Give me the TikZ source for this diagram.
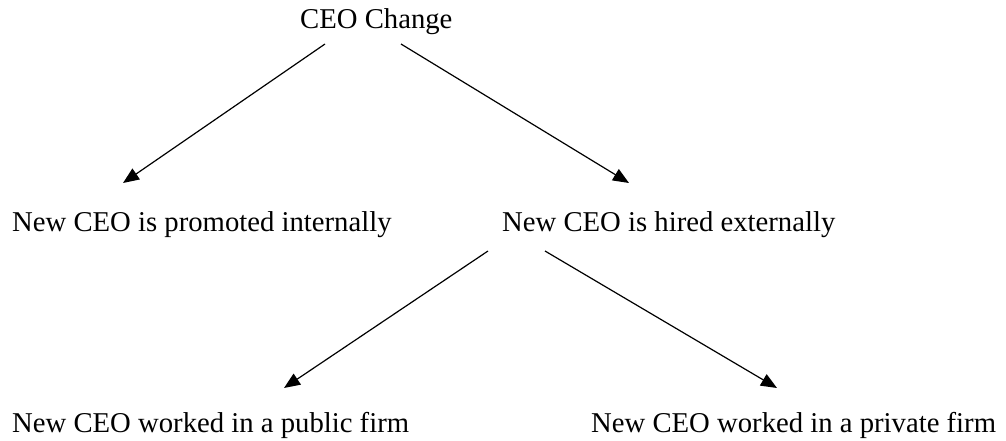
\documentclass[tikz,border=0pt]{standalone}
\usepackage{fontspec}
\setmainfont{Liberation Serif}
\usetikzlibrary{arrows.meta}
\begin{document}
\begin{tikzpicture}[x=1pt,y=-1pt,
  label/.style={anchor=base west,inner sep=0pt,font=\fontsize{28.7}{34}\selectfont},
  link/.style={line width=1.2pt,-{Triangle[length=16pt,width=13pt]}}]
\useasboundingbox (0,0) rectangle (1006,441);
% text of the decision tree
\node[label] (ceo)  at (300,29)  {CEO Change};
\node[label] (int)  at (12,231)  {New CEO is promoted internally};
\node[label] (ext)  at (502,231) {New CEO is hired externally};
\node[label] (pub)  at (12,432)  {New CEO worked in a public firm};
\node[label] (priv) at (591,432) {New CEO worked in a private firm};
% arrow end points
\coordinate (ceoL) at (325,44);
\coordinate (ceoR) at (401,44);
\coordinate (intT) at (123,183);
\coordinate (extT) at (629,183);
\coordinate (extL) at (488,251);
\coordinate (extR) at (545,251);
\coordinate (pubT) at (284,388);
\coordinate (privT) at (777,388);
% branches
\draw[link] (ceoL) -- (intT);
\draw[link] (ceoR) -- (extT);
\draw[link] (extL) -- (pubT);
\draw[link] (extR) -- (privT);
\end{tikzpicture}
\end{document}
